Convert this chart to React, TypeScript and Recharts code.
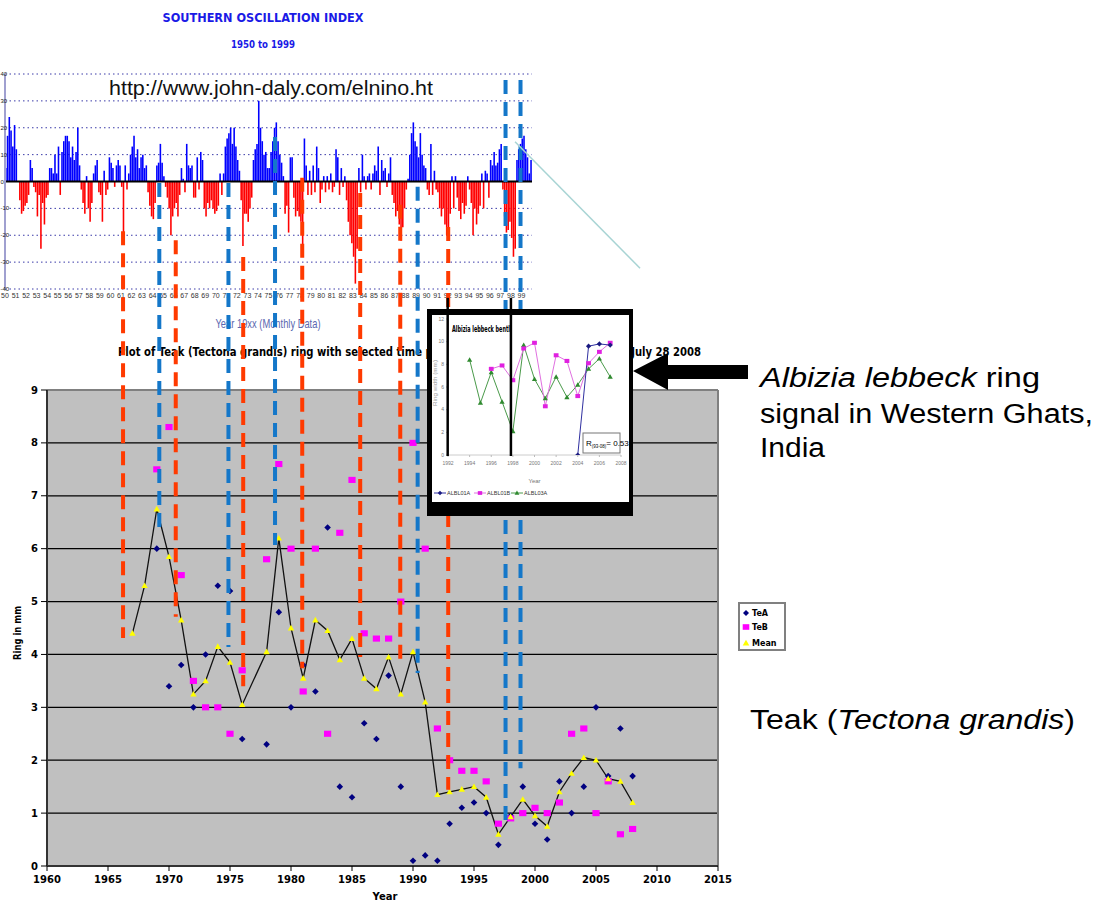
import React from 'react';
import {
  BarChart,
  Bar,
  Cell,
  XAxis,
  YAxis,
  CartesianGrid,
  ReferenceLine,
  ComposedChart,
  Line,
  LineChart,
} from 'recharts';

// ---------------- Southern Oscillation Index (six readings per year) ----------------
const soi1950s = [
  5, 17, 24, 19, 13, 21,
  12, 0, -7, -12, -11, -9,
  -8, -5, 8, 5, -2, -4,
  -13, -5, -25, -8, -16, -6,
  -5, 5, 5, 3, 10, 3,
  13, -5, 11, 15, 17, 17,
  15, 9, 13, 8, 11, 20,
  6, -3, -8, -12, 2, -10,
  -15, -8, 3, 6, 8, -4,
  -5, -15, 4, -5, -3, 9,
];
const soi1960s = [
  7, 5, -2, 6, 8, 6,
  -2, -21, 6, -3, 3, 10,
  13, 17, 9, 12, 5, 9,
  10, 5, 6, -4, -9, -13,
  -14, -8, 6, 7, 14, 7,
  2, -2, -6, -10, -20, -13,
  -10, -8, -13, -5, 5, 1,
  -4, 14, 6, 5, 6, -6,
  -6, 9, -3, 11, 8, -10,
  -13, -8, -10, -7, -10, -12,
];
const soi1970s = [
  -11, -9, 3, -5, 3, 13,
  16, 18, 20, 14, 20, 13,
  8, 4, -7, -24, -12, -12,
  -15, -10, -6, 8, 12, 14,
  30, 20, 15, 10, 11, 5,
  5, 11, 15, 20, 22, 15,
  10, 7, 2, -12, -9, -19,
  9, 9, -6, -13, -11, -13,
  -15, -26, 16, 6, -5, 4,
  -5, 6, -4, 13, 5, -8,
];
const soi1980s = [
  -3, 2, -4, 2, -3, 3,
  -4, -2, 12, 9, -5, 5,
  -2, 2, -7, -15, -20, -23,
  -28, -38, -25, 5, -4, 10,
  2, -3, 2, 3, -3, 3,
  6, 4, 13, -5, 8, 4,
  5, -2, 3, 9, -5, -8,
  -13, -11, -16, -22, -17, -10,
  -3, 1, 10, 18, 22, 15,
  13, 9, 18, 10, 6, 5,
];
const soi1990s = [
  -3, -5, 14, -5, 4, -3,
  -4, -10, -13, -10, -16, -20,
  -22, -12, 2, -10, 2, -6,
  -11, -14, -8, -12, -9, 2,
  -3, -8, -20, -10, -16, -12,
  -9, 3, -10, 4, 3, -6,
  8, 6, 11, 6, 7, 12,
  14, -3, -13, -19, -18, -15,
  -21, -28, -25, 8, 12, 14,
  16, 17, 12, 9, 3, 8,
];
const soiDecades = [soi1950s, soi1960s, soi1970s, soi1980s, soi1990s];
const soiDecadeStarts = [1950, 1960, 1970, 1980, 1990];
const soiYearTicks = Array.from({ length: 50 }, (_, i) => 1950 + i);
const soiValueTicks = [-40, -30, -20, -10, 0, 10, 20, 30, 40];

// ---------------- Teak ring widths (mm) ----------------
const teakYears = [
  1967, 1968, 1969, 1970, 1971, 1972, 1973, 1974, 1975, 1976, 1977, 1978, 1979, 1980,
  1981, 1982, 1983, 1984, 1985, 1986, 1987, 1988, 1989, 1990, 1991, 1992, 1993, 1994,
  1995, 1996, 1997, 1998, 1999, 2000, 2001, 2002, 2003, 2004, 2005, 2006, 2007, 2008,
];
const teakA = [
  null, null, 6.0, 3.4, 3.8, 3.0, 4.0, 5.3, 5.2, 2.4, null, 2.3, 4.8, 3.0,
  3.8, 3.3, 6.4, 1.5, 1.3, 2.7, 2.4, 3.6, 1.5, 0.1, 0.2, 0.1, 0.8, 1.1,
  1.2, 1.0, 0.4, 0.95, 1.5, 0.8, 0.5, 1.6, 1.0, 1.5, 3.0, 1.7, 2.6, 1.7,
];
const teakB = [
  null, null, 7.5, 8.3, 5.5, 3.5, 3.0, 3.0, 2.5, 3.7, null, 5.8, 7.6, 6.0,
  3.3, 6.0, 2.5, 6.3, 7.3, 4.4, 4.3, 4.3, 5.0, 8.0, 6.0, 2.6, 2.0, 1.8,
  1.8, 1.6, 0.8, 0.9, 1.0, 1.1, 1.0, 1.2, 2.5, 2.6, 1.0, 1.6, 0.6, 0.7,
];
const teakMean = [
  4.4, 5.3, 6.75, 5.85, 4.65, 3.25, 3.5, 4.15, 3.85, 3.05, null, 4.05, 6.2, 4.5,
  3.55, 4.65, 4.45, 3.9, 4.3, 3.55, 3.35, 3.95, 3.25, 4.05, 3.1, 1.35, 1.4, 1.45,
  1.5, 1.3, 0.6, 0.93, 1.26, 0.95, 0.75, 1.4, 1.75, 2.05, 2.0, 1.65, 1.6, 1.2,
];
const teakXTicks = [1960, 1965, 1970, 1975, 1980, 1985, 1990, 1995, 2000, 2005, 2010, 2015];
const teakYTicks = [0, 1, 2, 3, 4, 5, 6, 7, 8, 9];
const teakSeriesNames = ['TeA', 'TeB', 'Mean'];

// ---------------- Albizia lebbeck inset ----------------
const albYears = [1992, 1993, 1994, 1995, 1996, 1997, 1998, 1999, 2000, 2001, 2002, 2003, 2004, 2005, 2006, 2007, 2008];
const albl01A = [null, null, null, null, null, null, null, null, null, null, null, null, 0, 9.6, 9.8, 9.7, null];
const albl01B = [null, null, null, null, 7.6, 7.9, 6.6, 9.4, 9.9, 4.3, 8.8, 8.3, 5.2, 8.1, 9.1, 9.9, null];
const albl03A = [null, null, 8.4, 4.6, 7.3, 4.7, 2.1, 9.7, 6.7, 5.0, 6.9, 5.1, 6.2, 7.6, 8.5, 6.9, null];
const albXTicks = [1992, 1994, 1996, 1998, 2000, 2002, 2004, 2006, 2008];
const albYTicks = [0, 2, 4, 6, 8, 10, 12];
const albSeriesNames = ['ALBL01A', 'ALBL01B', 'ALBL03A'];

// ---------------- Linking marks (x: SOI year, y: ring-width units) ----------------
const redMarkYears = [1961.2, 1966.2, 1972.6, 1978.2, 1983.7, 1987.5, 1992.05];
const redMarkTops = [12.0, 11.83, 11.51, 13.01, 12.72, 12.5, 12.08];
const redMarkBottoms = [4.31, 4.71, 3.4, 3.74, 3.95, 3.84, 1.44];
const blueMarkYears = [1964.64, 1971.2, 1975.62, 1989.15, 1997.49, 1998.91];
const blueMarkTops = [12.91, 12.91, 13.78, 12.84, 14.86, 14.86];
const blueMarkBottoms = [6.35, 4.14, 6.07, 3.65, 0.87, 1.85];
const insetLinkYears = [1992, 1998];
const insetLinkTop = 10.74;
const insetLinkBottom = 7.75;
const zoomLineStart = { x: 1998.39, y: 13.69 };
const zoomLineEnd = { x: 2010.25, y: 11.3 };
const overlayXDomain: [number, number] = [1949.5256, 2053.605];
const overlayYDomain: [number, number] = [-0.6805, 16.3705];

// ---------------- derived tables ----------------
const soiData = soiDecades.flatMap((dec, d) =>
  dec.map((v, i) => ({ t: soiDecadeStarts[d] + (i + 0.5) / 6, v }))
);
const teakData = teakYears.map((year, i) => ({ year, a: teakA[i], b: teakB[i], mean: teakMean[i] }));
const albData = albYears.map((year, i) => ({ year, a: albl01A[i], b: albl01B[i], c: albl03A[i] }));

type Kind = 'diamond' | 'square' | 'triangle';
const markerPath = (kind: Kind, cx: number, cy: number, s: number) => {
  if (kind === 'diamond') return `M${cx},${cy - s} L${cx + s},${cy} L${cx},${cy + s} L${cx - s},${cy} Z`;
  if (kind === 'square') return `M${cx - s},${cy - s * 0.85} h${2 * s} v${1.7 * s} h${-2 * s} Z`;
  return `M${cx},${cy - s} L${cx + s},${cy + s * 0.75} L${cx - s},${cy + s * 0.75} Z`;
};
const makeDot = (kind: Kind, fill: string, s: number, prefix: string) => (props: any) => {
  const { cx, cy, index } = props;
  const key = `${prefix}-${index}`;
  if (cx == null || cy == null || !Number.isFinite(cx) || !Number.isFinite(cy) || props.value == null) {
    return <g key={key} />;
  }
  return <path key={key} d={markerPath(kind, cx, cy, s)} fill={fill} />;
};

const FONT = "'Liberation Sans', Arial, sans-serif";
const BOLDFONT = "'DejaVu Sans', sans-serif";

// SOI value labels sit at the very left edge of the page (the reference crops them)
const SoiValueTick = (props: any) => {
  const { y, payload } = props;
  return (
    <text x={25.5} y={y} dy={2} fontSize={6} fill="#222" fontFamily={FONT} textAnchor="start">
      {payload.value}
    </text>
  );
};

const Overlay = ({ children }: { children: React.ReactNode }) => (
  <div style={{ position: 'absolute', left: 0, top: 0, pointerEvents: 'none' }}>
    <ComposedChart width={1097} height={902} data={[{ x: 1950, y: 0 }]} margin={{ top: 0, right: 0, bottom: 0, left: 0 }}>
      <XAxis type="number" dataKey="x" domain={overlayXDomain} allowDataOverflow hide height={0} />
      <YAxis type="number" domain={overlayYDomain} allowDataOverflow hide width={0} />
      {children}
    </ComposedChart>
  </div>
);

export default function App() {
  return (
    <div style={{ position: 'absolute', left: 0, top: 0, width: 1097, height: 902, background: '#fff', fontFamily: FONT, overflow: 'hidden' }}>
      {/* SOI bar chart */}
      <div style={{ position: 'absolute', left: -25, top: 0 }}>
        <BarChart width={570} height={310} data={soiData} margin={{ top: 74, right: 13, bottom: 0, left: 0 }}>
          <CartesianGrid vertical={false} stroke="#3a3aa8" strokeDasharray="1.5 3" />
          <XAxis
            dataKey="t"
            type="number"
            domain={[1950, 2000]}
            allowDataOverflow
            ticks={soiYearTicks}
            interval={0}
            tickFormatter={(y: number) => String(y % 100).padStart(2, '0')}
            tick={{ fontSize: 7, fill: '#333', fontFamily: FONT }}
            tickLine={false}
            axisLine={false}
            tickSize={2}
            tickMargin={2}
            height={21}
          />
          <YAxis
            domain={[-40, 40]}
            ticks={soiValueTicks}
            allowDataOverflow
            interval={0}
            width={30}
            tick={<SoiValueTick />}
            tickLine={false}
            axisLine={{ stroke: '#a0a0d0', strokeWidth: 2 }}
          />
          <Bar dataKey="v" barSize={1.8} isAnimationActive={false}>
            {soiData.map((d, i) => (
              <Cell key={`c-${i}`} fill={d.v >= 0 ? '#0000ff' : '#ff0000'} />
            ))}
          </Bar>
          <ReferenceLine y={0} stroke="#000" strokeWidth={2} />
        </BarChart>
      </div>

      {/* Teak chart */}
      <div style={{ position: 'absolute', left: 0, top: 340 }}>
        <ComposedChart width={800} height={562} data={teakData} margin={{ top: 50, right: 82, bottom: 0, left: 0 }}>
          <CartesianGrid vertical={false} stroke="#000" strokeWidth={1.3} fill="#c0c0c0" fillOpacity={1} />
          <XAxis
            dataKey="year"
            type="number"
            domain={[1960, 2015]}
            allowDataOverflow
            ticks={teakXTicks}
            interval={0}
            height={36}
            tick={{ fontSize: 10, fontWeight: 900, fill: '#000', fontFamily: BOLDFONT }}
            tickSize={5}
            tickMargin={5}
            axisLine={{ stroke: '#333', strokeWidth: 2 }}
            tickLine={{ stroke: '#000' }}
          />
          <YAxis
            domain={[0, 9]}
            ticks={teakYTicks}
            allowDataOverflow
            interval={0}
            width={47}
            tick={{ fontSize: 10, fontWeight: 900, fill: '#000', fontFamily: BOLDFONT }}
            tickSize={6}
            tickMargin={3}
            axisLine={{ stroke: '#333', strokeWidth: 2 }}
            tickLine={{ stroke: '#000' }}
          />
          <ReferenceLine y={9} stroke="#808080" strokeWidth={2} />
          <ReferenceLine x={2015} stroke="#808080" strokeWidth={2} />
          <Line dataKey="a" name={teakSeriesNames[0]} stroke="none" dot={makeDot('diamond', '#000080', 3.3, 'ta')} activeDot={false} isAnimationActive={false} />
          <Line dataKey="b" name={teakSeriesNames[1]} stroke="none" dot={makeDot('square', '#ff00ff', 3.6, 'tb')} activeDot={false} isAnimationActive={false} />
          <Line dataKey="mean" name={teakSeriesNames[2]} stroke="#111" strokeWidth={1.3} connectNulls dot={makeDot('triangle', '#ffff00', 3.2, 'tm')} activeDot={false} isAnimationActive={false} />
        </ComposedChart>
      </div>

      {/* Teak legend */}
      <svg width={48} height={50} style={{ position: 'absolute', left: 738, top: 602 }}>
        <rect x={1} y={1} width={46} height={47} fill="#fff" stroke="#808080" strokeWidth={2} />
        <path d={markerPath('diamond', 8, 11, 3)} fill="#000080" />
        <text x={14} y={14} fontSize={8} fontWeight="bold" fontFamily={BOLDFONT}>{teakSeriesNames[0]}</text>
        <path d={markerPath('square', 8, 25, 3.3)} fill="#ff00ff" />
        <text x={14} y={28} fontSize={8} fontWeight="bold" fontFamily={BOLDFONT}>{teakSeriesNames[1]}</text>
        <path d={markerPath('triangle', 8, 41, 3.3)} fill="#ffff00" />
        <text x={14} y={44} fontSize={8} fontWeight="bold" fontFamily={BOLDFONT}>{teakSeriesNames[2]}</text>
      </svg>

      {/* texts and arrow */}
      <svg width={1097} height={902} style={{ position: 'absolute', left: 0, top: 0 }}>
        <text x={263} y={22} textAnchor="middle" fontFamily={BOLDFONT} fontWeight="bold" fontSize={12} fill="#1a1ae6" textLength={201} lengthAdjust="spacingAndGlyphs">SOUTHERN OSCILLATION INDEX</text>
        <text x={263} y={48} textAnchor="middle" fontFamily={BOLDFONT} fontWeight="bold" fontSize={10} fill="#1a1ae6" textLength={64} lengthAdjust="spacingAndGlyphs">1950 to 1999</text>
        <text x={271} y={95} textAnchor="middle" fontFamily={FONT} fontSize={20} fill="#111" textLength={324} lengthAdjust="spacingAndGlyphs">http://www.john-daly.com/elnino.ht</text>
        <text x={268} y={328} textAnchor="middle" fontFamily={FONT} fontSize={13} fill="#5a68b0" textLength={105} lengthAdjust="spacingAndGlyphs">Year 19xx (Monthly Data)</text>
        <text x={118} y={356} fontFamily={BOLDFONT} fontWeight="bold" fontSize={12} fill="#000" textLength={583} lengthAdjust="spacingAndGlyphs">Plot of Teak (Tectona grandis) ring with selected time periods of the Southern Oscillation, July 28 2008</text>
        <text x={0} y={0} transform="translate(21,633) rotate(-90)" textAnchor="middle" fontFamily={BOLDFONT} fontWeight="bold" fontSize={10} fill="#000" textLength={54} lengthAdjust="spacingAndGlyphs">Ring in mm</text>
        <text x={385} y={900} textAnchor="middle" fontFamily={BOLDFONT} fontWeight="bold" fontSize={10} fill="#000">Year</text>
        <polygon points="633,371 668,353 668,365 748,365 748,379 668,379 668,390" fill="#000" />
        <text x={760} y={387} fontFamily={FONT} fontSize={27} fill="#000" textLength={280} lengthAdjust="spacingAndGlyphs">
          <tspan fontStyle="italic">Albizia lebbeck</tspan> ring
        </text>
        <text x={760} y={423} fontFamily={FONT} fontSize={27} fill="#000" textLength={333} lengthAdjust="spacingAndGlyphs">signal in Western Ghats,</text>
        <text x={760} y={457} fontFamily={FONT} fontSize={27} fill="#000" textLength={65} lengthAdjust="spacingAndGlyphs">India</text>
        <text x={750} y={729} fontFamily={FONT} fontSize={27} fill="#000" textLength={325} lengthAdjust="spacingAndGlyphs">
          Teak (<tspan fontStyle="italic">Tectona grandis</tspan>)
        </text>
      </svg>

      {/* dashed linking lines */}
      <Overlay>
        {redMarkYears.map((x, i) => (
          <ReferenceLine key={`r-${i}`} segment={[{ x, y: redMarkTops[i] }, { x, y: redMarkBottoms[i] }]} stroke="#ff3a00" strokeWidth={4} strokeDasharray="14 8" ifOverflow="visible" />
        ))}
        {blueMarkYears.map((x, i) => (
          <ReferenceLine key={`b-${i}`} segment={[{ x, y: blueMarkTops[i] }, { x, y: blueMarkBottoms[i] }]} stroke="#1477c9" strokeWidth={4} strokeDasharray="14 8" ifOverflow="visible" />
        ))}
      </Overlay>

      {/* inset */}
      <div style={{ position: 'absolute', left: 427, top: 309, width: 206, height: 207, background: '#000' }}>
        <div style={{ position: 'absolute', left: 5, top: 6, width: 197, height: 187, background: '#fff' }}>
          <LineChart width={197} height={187} data={albData} margin={{ top: 4, right: 8, bottom: 17, left: 0 }}>
            <XAxis
              dataKey="year"
              type="number"
              domain={[1992, 2008]}
              allowDataOverflow
              ticks={albXTicks}
              interval={0}
              height={30}
              tick={{ fontSize: 5, fill: '#777' }}
              tickSize={2}
              tickMargin={4}
              axisLine={{ stroke: '#ccc' }}
              tickLine={{ stroke: '#bbb' }}
              label={{ value: 'Year', position: 'insideBottom', offset: 2, fontSize: 6, fill: '#777' }}
            />
            <YAxis
              domain={[0, 12]}
              ticks={albYTicks}
              allowDataOverflow
              interval={0}
              width={16}
              tick={{ fontSize: 5, fill: '#777' }}
              tickSize={2}
              tickMargin={2}
              axisLine={{ stroke: '#ccc' }}
              tickLine={{ stroke: '#bbb' }}
            />
            <Line dataKey="c" name={albSeriesNames[2]} stroke="#4a9a4a" strokeWidth={1} dot={makeDot('triangle', '#2f8a2f', 2.6, 'ac')} activeDot={false} isAnimationActive={false} />
            <Line dataKey="b" name={albSeriesNames[1]} stroke="#e070e0" strokeWidth={1} dot={makeDot('square', '#e020e0', 2.4, 'ab')} activeDot={false} isAnimationActive={false} />
            <Line dataKey="a" name={albSeriesNames[0]} stroke="#3030a0" strokeWidth={1} dot={makeDot('diamond', '#1a1a80', 2.6, 'aa')} activeDot={false} isAnimationActive={false} />
          </LineChart>
          <svg width={197} height={187} style={{ position: 'absolute', left: 0, top: 0 }}>
            <text x={0} y={0} transform="translate(5,68) rotate(-90)" textAnchor="middle" fontSize={5} fill="#999" fontFamily={FONT} textLength={46} lengthAdjust="spacingAndGlyphs">Ring width (mm)</text>
            <text x={20} y={17} fontFamily={BOLDFONT} fontWeight="bold" fontSize={8} fill="#000" textLength={58} lengthAdjust="spacingAndGlyphs">Albizia lebbeck bentl</text>
            <rect x={151} y={118} width={37} height={20} fill="#fff" stroke="#777" strokeWidth={1} />
            <text x={154} y={131} fontSize={8} fill="#000" fontFamily={FONT}>
              R<tspan fontSize={4.5} dy={2}>(93-08)</tspan>
              <tspan dy={-2}>= 0.53</tspan>
            </text>
            <g>
              <line x1={2} y1={178} x2={14} y2={178} stroke="#3030a0" strokeWidth={1} />
              <path d={markerPath('diamond', 8, 178, 2.2)} fill="#1a1a80" />
              <text x={15} y={180} fontSize={5.5} fill="#333" fontFamily={FONT}>{albSeriesNames[0]}</text>
              <line x1={42} y1={178} x2={54} y2={178} stroke="#e070e0" strokeWidth={1} />
              <path d={markerPath('square', 48, 178, 2.2)} fill="#e020e0" />
              <text x={55} y={180} fontSize={5.5} fill="#333" fontFamily={FONT}>{albSeriesNames[1]}</text>
              <line x1={79} y1={178} x2={91} y2={178} stroke="#4a9a4a" strokeWidth={1} />
              <path d={markerPath('triangle', 85, 178, 2.4)} fill="#2f8a2f" />
              <text x={92} y={180} fontSize={5.5} fill="#333" fontFamily={FONT}>{albSeriesNames[2]}</text>
            </g>
          </svg>
        </div>
      </div>

      {/* links into the inset and zoom line */}
      <Overlay>
        {insetLinkYears.map((x, i) => (
          <ReferenceLine key={`k-${i}`} segment={[{ x, y: insetLinkTop }, { x, y: insetLinkBottom }]} stroke="#000" strokeWidth={2.5} ifOverflow="visible" />
        ))}
        <ReferenceLine segment={[zoomLineStart, zoomLineEnd]} stroke="#a8d4d4" strokeWidth={1.5} ifOverflow="visible" />
      </Overlay>
    </div>
  );
}
